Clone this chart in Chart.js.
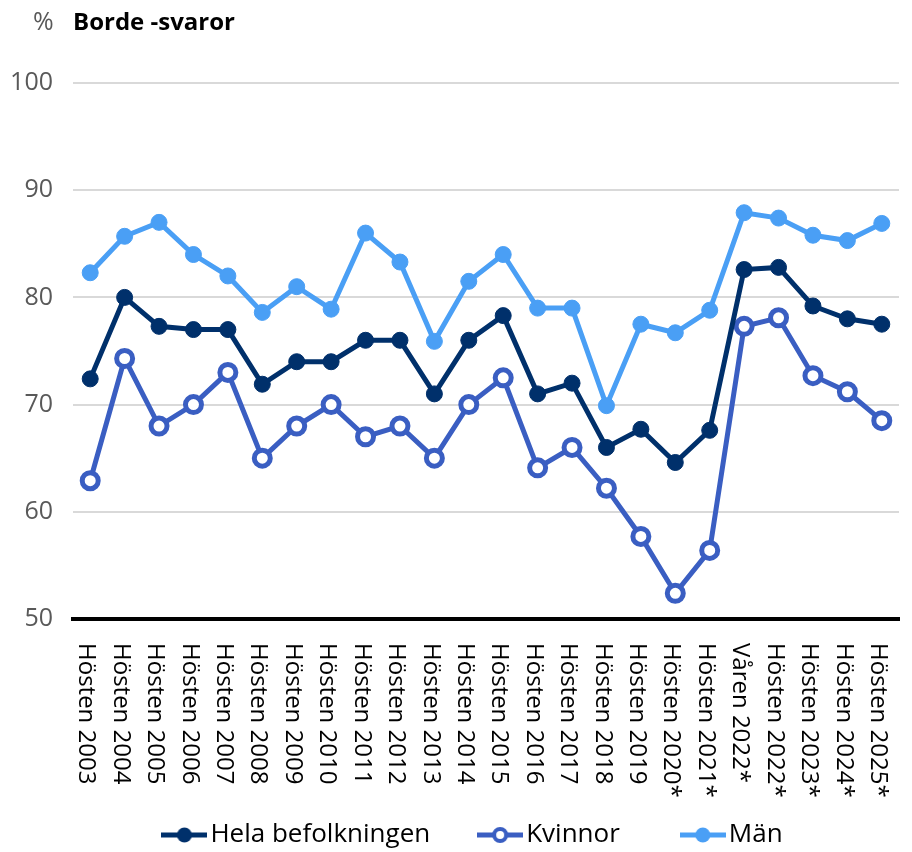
<!DOCTYPE html>
<html>
<head>
<meta charset="utf-8">
<script src="https://cdn.jsdelivr.net/npm/chart.js@4"></script>
<style>
  html, body { margin: 0; padding: 0; background: #fff; }
  #wrap { width: 912px; height: 852px; }
</style>
</head>
<body>
<div id="wrap"><canvas id="chart" width="912" height="852"></canvas></div>
<script>
var periods = [
  "Hösten 2003", "Hösten 2004", "Hösten 2005", "Hösten 2006", "Hösten 2007",
  "Hösten 2008", "Hösten 2009", "Hösten 2010", "Hösten 2011", "Hösten 2012",
  "Hösten 2013", "Hösten 2014", "Hösten 2015", "Hösten 2016", "Hösten 2017",
  "Hösten 2018", "Hösten 2019", "Hösten 2020*", "Hösten 2021*", "Våren 2022*",
  "Hösten 2022*", "Hösten 2023*", "Hösten 2024*", "Hösten 2025*"
];

var helaBefolkningen = [72.4, 80.0, 77.3, 77.0, 77.0, 71.9, 74.0, 74.0, 76.0, 76.0,
  71.0, 76.0, 78.3, 71.0, 72.0, 66.0, 67.7, 64.6, 67.6, 82.6, 82.8, 79.2, 78.0, 77.5];

var kvinnor = [62.9, 74.3, 68.0, 70.0, 73.0, 65.0, 68.0, 70.0, 67.0, 68.0,
  65.0, 70.0, 72.5, 64.1, 66.0, 62.2, 57.7, 52.4, 56.4, 77.3, 78.1, 72.7, 71.2, 68.5];

var man = [82.3, 85.7, 87.0, 84.0, 82.0, 78.6, 81.0, 78.9, 86.0, 83.3,
  75.9, 81.5, 84.0, 79.0, 79.0, 69.9, 77.5, 76.7, 78.8, 87.9, 87.4, 85.8, 85.3, 86.9];

var yTicks = [50, 60, 70, 80, 90, 100];

var cHela = "#00306b";
var cKvinnor = "#3a5ec2";
var cMan = "#4a9ff5";
var font = "'Open Sans', 'Noto Sans', sans-serif";

// legend marker: short line with a dot in the middle
function legendMarker(color, hollow) {
  var c = document.createElement("canvas");
  c.width = 46; c.height = 18;
  var g = c.getContext("2d");
  g.strokeStyle = color;
  g.lineWidth = 5;
  g.beginPath(); g.moveTo(0, 9); g.lineTo(46, 9); g.stroke();
  g.beginPath(); g.arc(23, 9, hollow ? 6 : 7.5, 0, Math.PI * 2);
  if (hollow) {
    g.fillStyle = "#fff"; g.fill();
    g.lineWidth = 4; g.stroke();
  } else {
    g.fillStyle = color; g.fill();
  }
  return c;
}
var markers = [legendMarker(cHela, false), legendMarker(cKvinnor, true), legendMarker(cMan, false)];

// title above the plot: "%" + bold heading
var headerPlugin = {
  id: "header",
  afterDraw: function (chart) {
    var ctx = chart.ctx;
    ctx.save();
    ctx.textBaseline = "alphabetic";
    ctx.textAlign = "left";
    ctx.font = "25px " + font;
    ctx.fillStyle = "#595959";
    ctx.fillText("%", 33, 30);
    ctx.font = "bold 24px " + font;
    ctx.fillStyle = "#000";
    ctx.fillText("Borde -svaror", 73, 30);
    ctx.restore();
  }
};

// x labels read top to bottom (rotated clockwise)
var xLabelPlugin = {
  id: "xLabels",
  afterDraw: function (chart) {
    var sc = chart.scales.x;
    var ctx = chart.ctx;
    ctx.save();
    ctx.font = "24px " + font;
    ctx.fillStyle = "#000";
    ctx.textAlign = "left";
    ctx.textBaseline = "middle";
    for (var i = 0; i < periods.length; i++) {
      var x = sc.getPixelForTick(i);
      ctx.save();
      ctx.translate(x - 4, sc.top + 24);
      ctx.rotate(Math.PI / 2);
      ctx.fillText(periods[i], 0, 0);
      ctx.restore();
    }
    ctx.restore();
  }
};

// nudge the legend a little to the right
var legendShift = {
  id: "legendShift",
  afterLayout: function (chart) {
    chart.legend.left += 16;
    chart.legend.right += 16;
  }
};

var ds = function (label, data, color, hollow) {
  return {
    label: label,
    data: data,
    borderColor: color,
    backgroundColor: color,
    borderWidth: 5,
    pointRadius: 8,
    pointHoverRadius: 8,
    pointBorderWidth: hollow ? 5 : 1,
    pointBorderColor: color,
    pointBackgroundColor: hollow ? "#fff" : color,
    tension: 0
  };
};

new Chart(document.getElementById("chart"), {
  type: "line",
  data: {
    labels: periods,
    datasets: [
      ds("Hela befolkningen", helaBefolkningen, cHela, false),
      ds("Kvinnor", kvinnor, cKvinnor, true),
      ds("Män", man, cMan, false)
    ]
  },
  options: {
    responsive: false,
    animation: false,
    layout: { padding: { top: 83, left: 12, right: 2, bottom: -6 } },
    scales: {
      x: {
        offset: true,
        grid: { display: false },
        border: { display: true, color: "#000", width: 4 },
        ticks: { display: false },
        afterFit: function (scale) { scale.height = 146; }
      },
      y: {
        min: 50,
        max: 100,
        afterBuildTicks: function (scale) {
          scale.ticks = yTicks.map(function (v) { return { value: v }; });
        },
        afterFit: function (scale) { scale.width = 61; },
        grid: { color: "#d9d9d9", lineWidth: 2, drawTicks: false },
        border: { display: false },
        ticks: { color: "#595959", font: { size: 25, family: font }, padding: 20 }
      }
    },
    plugins: {
      tooltip: { enabled: false },
      legend: {
        position: "bottom",
        labels: {
          usePointStyle: true,
          pointStyleWidth: 26,
          padding: 57,
          color: "#000",
          font: { size: 26, family: font },
          generateLabels: function (chart) {
            var items = Chart.defaults.plugins.legend.labels.generateLabels(chart);
            items.forEach(function (it, i) { it.pointStyle = markers[i]; });
            items[1].text = "Kvinnor\u2002";
            return items;
          }
        }
      }
    }
  },
  plugins: [headerPlugin, xLabelPlugin, legendShift]
});
</script>
</body>
</html>
